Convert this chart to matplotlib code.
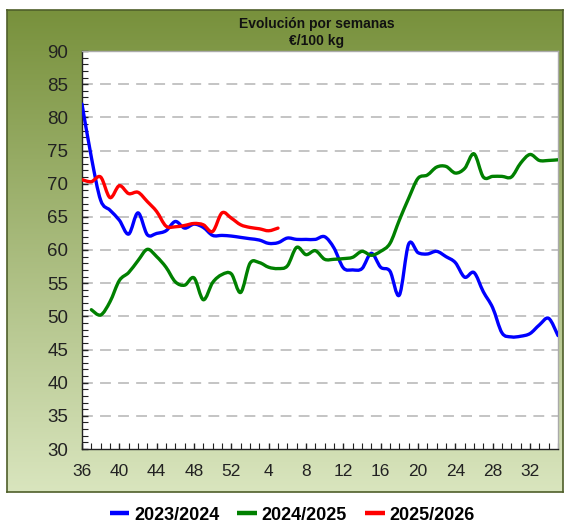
import numpy as np
import matplotlib
matplotlib.use("Agg")
import matplotlib.pyplot as plt
from matplotlib.path import Path
from matplotlib.patches import PathPatch

plt.rcParams['font.family'] = ['Liberation Sans', 'DejaVu Sans']

# ---------------- data ----------------
weeks = list(range(36, 53)) + list(range(1, 36))   # 52 weekly categories

s2324 = [82.0, 74.0, 67.5, 66.0, 64.5, 62.4, 65.6, 62.3, 62.5, 62.9,
         64.3, 63.3, 63.9, 63.4, 62.2, 62.2, 62.1, 61.9, 61.7, 61.5,
         61.0, 61.1, 61.8, 61.6, 61.6, 61.6, 62.0, 60.3, 57.3, 57.0,
         57.2, 59.5, 57.4, 56.8, 53.2, 60.9, 59.6, 59.4, 59.8, 59.0,
         58.1, 55.9, 56.6, 53.7, 51.3, 47.5, 46.9, 47.0, 47.4, 48.7,
         49.7, 47.1]

s2425 = [np.nan, 51.0, 50.2, 52.2, 55.4, 56.6, 58.4, 60.1, 59.0, 57.4,
         55.2, 54.7, 55.8, 52.5, 55.1, 56.3, 56.4, 53.6, 58.0, 58.1,
         57.4, 57.2, 57.6, 60.4, 59.3, 59.9, 58.6, 58.6, 58.7, 58.9,
         59.8, 59.2, 59.8, 61.0, 64.5, 67.8, 70.8, 71.3, 72.5, 72.6,
         71.6, 72.3, 74.5, 71.0, 71.1, 71.1, 71.0, 73.1, 74.4, 73.5,
         73.5, 73.6]

s2526 = [70.6, 70.3, 71.0, 67.9, 69.7, 68.5, 68.7, 67.3, 65.8, 63.6,
         63.5, 63.7, 64.0, 63.8, 62.8, 65.6, 64.8, 63.8, 63.4, 63.2,
         62.9, 63.3]

series = [("2023/2024", s2324, "#0000FF"),
          ("2024/2025", s2425, "#008000"),
          ("2025/2026", s2526, "#FF0000")]

title_text = "Evolución por semanas\n€/100 kg"

# ---------------- figure ----------------
W, H = 570, 524
fig = plt.figure(figsize=(W / 100, H / 100), dpi=100)
fig.patch.set_facecolor("white")

# gradient panel
px0, py0, px1, py1 = 7, 10, 563, 492
bg = fig.add_axes([px0 / W, 1 - py1 / H, (px1 - px0) / W, (py1 - py0) / H])
top = np.array([120, 145, 60]) / 255
bot = np.array([217, 229, 190]) / 255
t = np.linspace(0, 1, 256)[:, None]
grad = (top[None, :] * (1 - t) + bot[None, :] * t)[:, None, :]
bg.imshow(grad, aspect="auto", extent=[0, 1, 0, 1], origin="upper")
bg.set_xlim(0, 1)
bg.set_ylim(0, 1)
bg.set_xticks([])
bg.set_yticks([])
for sp in bg.spines.values():
    sp.set_color("#4F5F2A")
    sp.set_linewidth(1.2)
bg.set_zorder(0)

# plot area
ax0, ay0, ax1, ay1 = 82, 51, 558, 449
ax = fig.add_axes([ax0 / W, 1 - ay1 / H, (ax1 - ax0) / W, (ay1 - ay0) / H])
ax.set_zorder(1)
ax.set_facecolor("white")

n = len(weeks)
xs = np.arange(n)


def smooth_path(x, y):
    x = np.asarray(x, float)
    y = np.asarray(y, float)
    m = ~np.isnan(y)
    x, y = x[m], y[m]
    P = np.column_stack([x, y])
    verts = [P[0]]
    codes = [Path.MOVETO]
    k = len(P)
    for i in range(k - 1):
        p0 = P[i - 1] if i > 0 else P[i]
        p1 = P[i]
        p2 = P[i + 1]
        p3 = P[i + 2] if i + 2 < k else P[i + 1]
        c1 = p1 + (p2 - p0) / 6.0
        c2 = p2 - (p3 - p1) / 6.0
        verts += [c1, c2, p2]
        codes += [Path.CURVE4] * 3
    return Path(verts, codes)


handles = []
for label, vals, col in series:
    xi = xs[:len(vals)]
    patch = PathPatch(smooth_path(xi, vals), facecolor="none", edgecolor=col,
                      lw=2.4, capstyle="round", joinstyle="round", zorder=3)
    ax.add_patch(patch)
    h, = ax.plot([], [], color=col, lw=3.2, label=label, solid_capstyle="butt")
    handles.append(h)

ax.set_xlim(0, n - 1)
ax.set_ylim(30, 90)
ax.set_yticks(np.arange(30, 91, 5))
ax.set_yticks(np.arange(30, 91, 1), minor=True)
ax.set_xticks(xs[::4])
ax.set_xticklabels([str(weeks[i]) for i in xs[::4]])
ax.set_xticks(xs, minor=True)

for yv in np.arange(35, 90, 5):
    ax.axhline(yv, color="#BFBFBF", lw=1.3, dashes=(6, 4), zorder=1)

ax.tick_params(axis="y", which="major", direction="in", length=4, width=1,
               labelsize=13.5, pad=10, colors="#222222", labelcolor="#222222")
ax.tick_params(axis="y", which="minor", direction="in", length=4, width=0.8,
               colors="#222222")
ax.tick_params(axis="x", which="major", direction="in", length=4, width=1,
               labelsize=12.5, pad=11, colors="#222222", labelcolor="#222222")
ax.tick_params(axis="x", which="minor", direction="in", length=4, width=0.8,
               colors="#222222")

ax.spines["left"].set_color("#222222")
ax.spines["bottom"].set_color("#222222")
ax.spines["top"].set_color("#AAAAAA")
ax.spines["right"].set_color("#AAAAAA")
for sp in ax.spines.values():
    sp.set_linewidth(1.0)

fig.text(317 / W, 1 - 32.5 / H, title_text, ha="center", va="center",
         fontsize=10, fontweight="bold", linespacing=1.25, color="#111111")

fig.legend(handles=handles, loc="center", bbox_to_anchor=(292 / W, 1 - 515 / H),
           ncol=3, frameon=False, prop={"weight": "bold", "size": 13},
           handlelength=1.1, handletextpad=0.25, columnspacing=1.0)

fig.savefig("out.png", dpi=100, facecolor="white")
